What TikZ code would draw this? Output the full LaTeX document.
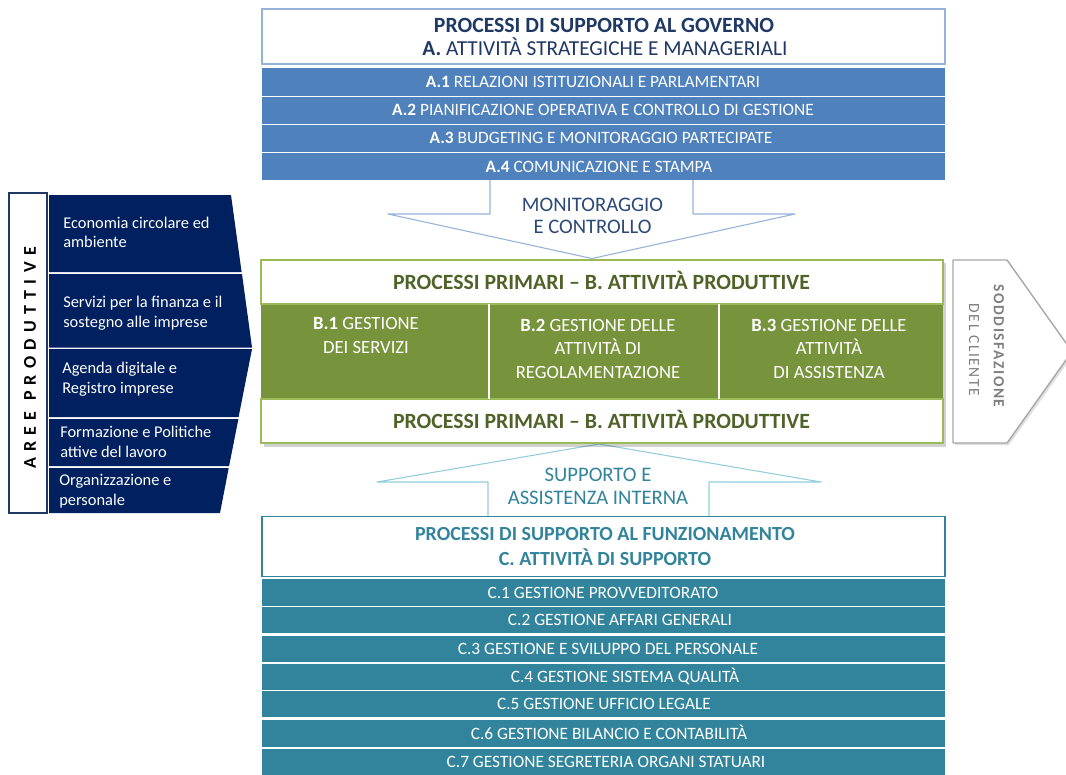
\documentclass[tikz,border=0pt]{standalone}
\usepackage{fontspec}
\setmainfont{Carlito}
\usetikzlibrary{shadows}
\newcommand\pxl{0.75pt}
\definecolor{blueA}{HTML}{4F81BD}
\definecolor{blueL}{HTML}{95B3D7}
\definecolor{blueD}{HTML}{1F3864}
\definecolor{blueT}{HTML}{2B4A78}
\definecolor{greenM}{HTML}{77933C}
\definecolor{greenL}{HTML}{9BBB59}
\definecolor{greenD}{HTML}{4F6228}
\definecolor{tealC}{HTML}{31849B}
\definecolor{tealL}{HTML}{93CDDD}
\definecolor{navy}{HTML}{002060}
\definecolor{navyB}{HTML}{1F3864}
\definecolor{grayA}{HTML}{A6A6A6}
\definecolor{grayT}{HTML}{7F7F7F}
\begin{document}
\begin{tikzpicture}[x=0.75pt,y=-0.75pt,
  bar/.style={inner sep=0pt, outer sep=0pt, minimum width=683*\pxl},
  rowAbox/.style={bar, fill=blueA, minimum height=27*\pxl},
  rowCbox/.style={bar, fill=tealC, minimum height=26*\pxl},
  rowtxt/.style={anchor=base, inner sep=0pt, text=white, font=\fontsize{13}{15}\selectfont},
  titleA/.style={anchor=base, inner sep=0pt, text=blueD, font=\fontsize{16}{18}\selectfont},
  titleB/.style={anchor=base, inner sep=0pt, text=greenD, font=\fontsize{16.3}{19}\selectfont\bfseries},
  titleC/.style={anchor=base, inner sep=0pt, text=tealC, font=\fontsize{15}{18}\selectfont\bfseries},
  btxt/.style={anchor=base, inner sep=0pt, align=center, text=white, font=\fontsize{14}{17.6}\selectfont},
  arrowtxt/.style={anchor=base, inner sep=0pt, align=center, font=\fontsize{15.5}{17}\selectfont},
  areatxt/.style={anchor=base west, inner sep=0pt, align=left, text=white, font=\fontsize{12.3}{14.6}\selectfont},
  chev/.style={fill=navy},
  sidetxt/.style={rotate=-90, inner sep=0pt, text=grayT, font=\fontsize{11.6}{14}\selectfont\addfontfeature{LetterSpace=10}}
]
\clip (0,0) rectangle (1066,774);
\fill[white] (0,0) rectangle (1066,774);

% ---------- block arrows ----------
\draw[blueL, fill=white, line width=0.8pt, line join=round]
  (490,180) -- (490,214) -- (388,214) -- (592,258.5) -- (795,214) -- (693,214) -- (693,180);
\node[arrowtxt, text=blueT] (mon) at (592.5,233.7) {MONITORAGGIO\\E CONTROLLO};

\draw[tealL, fill=white, line width=0.8pt, line join=round]
  (488,517) -- (488,482) -- (377,482) -- (599,444) -- (821,482) -- (709,482) -- (709,517);
\node[arrowtxt, text=tealC] (sup) at (598,504.5) {SUPPORTO E\\ASSISTENZA INTERNA};

% ---------- A block ----------
\node[bar, draw=blueL, fill=white, line width=0.9pt, minimum height=55*\pxl] (boxA) at (603.5,36.5) {};
\node[titleA, font=\fontsize{16.3}{18}\selectfont\bfseries] (tA1) at (604,32.7) {PROCESSI DI SUPPORTO AL GOVERNO};
\node[titleA] (tA2) at (605,55.7) {\textbf{A.} ATTIVITÀ STRATEGICHE E MANAGERIALI};

\node[rowAbox] (a1) at (603.5,82) {};
\node[rowAbox] (a2) at (603.5,110) {};
\node[rowAbox] (a3) at (603.5,138) {};
\node[rowAbox] (a4) at (603.5,166.5) {};
\node[rowtxt] (a1t) at (593,87.6) {\textbf{A.1} RELAZIONI ISTITUZIONALI E PARLAMENTARI};
\node[rowtxt] (a2t) at (603,115.6) {\textbf{A.2} PIANIFICAZIONE OPERATIVA E CONTROLLO DI GESTIONE};
\node[rowtxt] (a3t) at (601,143.6) {\textbf{A.3} BUDGETING E MONITORAGGIO PARTECIPATE};
\node[rowtxt] (a4t) at (599,172.1) {\textbf{A.4} COMUNICAZIONE E STAMPA};

% ---------- B block ----------
\fill[black, opacity=0.18] (264,263) rectangle (946,446.5);
\node[bar, minimum width=682*\pxl, minimum height=95*\pxl, fill=greenM] (bmid) at (602,351.5) {};
\node[bar, minimum width=682*\pxl, minimum height=44*\pxl, fill=white, draw=greenL, line width=1.2pt] (btop) at (602,282) {};
\node[bar, minimum width=682*\pxl, minimum height=44*\pxl, fill=white, draw=greenL, line width=1.2pt] (bbot) at (602,421) {};
\draw[white, line width=1.2pt] (bmid.north west) ++(228,0) coordinate (d1) -- (d1 |- bmid.south);
\draw[white, line width=1.2pt] (bmid.north west) ++(458,0) coordinate (d2) -- (d2 |- bmid.south);
\node[titleB] (bt1) at (601.5,289.9) {PROCESSI PRIMARI – B. ATTIVITÀ PRODUTTIVE};
\node[titleB] (bt2) at (601.5,428.9) {PROCESSI PRIMARI – B. ATTIVITÀ PRODUTTIVE};
\node[btxt] (b1) at (366,353) {\textbf{B.1} GESTIONE\\DEI SERVIZI};
\node[btxt] (b2) at (598,378) {\textbf{B.2} GESTIONE DELLE\\ATTIVITÀ DI\\REGOLAMENTAZIONE};
\node[btxt] (b3) at (829,378) {\textbf{B.3} GESTIONE DELLE\\ATTIVITÀ\\DI ASSISTENZA};

% ---------- customer satisfaction arrow ----------
\draw[grayA, fill=white, line width=1pt, line join=round,
      drop shadow={opacity=0.25, shadow xshift=1.5pt, shadow yshift=-1.5pt}]
  (953,260) -- (1007,260) -- (1072,351.5) -- (1007,443) -- (953,443) -- cycle;
\node[sidetxt, font=\fontsize{11.6}{14}\selectfont\bfseries\addfontfeature{LetterSpace=10}] (s1) at (999,346) {SODDISFAZIONE};
\node[sidetxt] (s2) at (974,350) {DEL CLIENTE};

% ---------- C block ----------
\node[bar, draw=tealC, fill=white, line width=0.8pt, minimum height=60*\pxl] (boxC) at (603.5,546.5) {};
\node[titleC] (tC1) at (605,540.4) {PROCESSI DI SUPPORTO AL FUNZIONAMENTO};
\node[titleC] (tC2) at (605,565.4) {C. ATTIVITÀ DI SUPPORTO};

\node[rowCbox, minimum height=27*\pxl] (c1) at (603.5,592.5) {};
\node[rowCbox] (c2) at (603.5,620) {};
\node[rowCbox] (c3) at (603.5,649) {};
\node[rowCbox] (c4) at (603.5,677) {};
\node[rowCbox] (c5) at (603.5,704) {};
\node[rowCbox, minimum height=27*\pxl] (c6) at (603.5,733.5) {};
\node[rowCbox] (c7) at (603.5,762) {};
\node[rowtxt] (c1t) at (603,598.6) {C.1 GESTIONE PROVVEDITORATO};
\node[rowtxt] (c2t) at (620,625.6) {C.2 GESTIONE AFFARI GENERALI};
\node[rowtxt] (c3t) at (608,654.6) {C.3 GESTIONE E SVILUPPO DEL PERSONALE};
\node[rowtxt] (c4t) at (625,682.6) {C.4 GESTIONE SISTEMA QUALITÀ};
\node[rowtxt] (c5t) at (604,709.6) {C.5 GESTIONE UFFICIO LEGALE};
\node[rowtxt] (c6t) at (609,739.1) {C.6 GESTIONE BILANCIO E CONTABILITÀ};
\node[rowtxt] (c7t) at (606,767.6) {C.7 GESTIONE SEGRETERIA ORGANI STATUARI};

% ---------- left panel ----------
\node[draw=navyB, fill=white, line width=1pt, inner sep=0pt, minimum width=38*\pxl, minimum height=320*\pxl] (aree) at (28,353) {};
\node[rotate=90, inner sep=0pt, text=black, font=\fontsize{13.5}{16}\selectfont\bfseries\addfontfeature{LetterSpace=35}] (areet) at (30,358) {AREE PRODUTTIVE};

\fill[chev] (49,195) -- (231,195) -- (241.6,272) -- (49,272) -- cycle;
\fill[chev] (49,274) -- (242,274) -- (252,347.5) -- (49,347.5) -- cycle;
\fill[chev] (49,349) -- (252,349) -- (238.6,417) -- (49,417) -- cycle;
\fill[chev] (49,419) -- (238.4,419) -- (229.1,466) -- (49,466) -- cycle;
\fill[chev] (49,468) -- (228.7,468) -- (220,513) -- (49,513) -- cycle;
\node[areatxt] (p1) at (63,247.5) {Economia circolare ed\\ambiente};
\node[areatxt] (p2) at (63,327) {Servizi per la finanza e il\\sostegno alle imprese};
\node[areatxt] (p3) at (62,393) {Agenda digitale e\\Registro imprese};
\node[areatxt] (p4) at (60,457) {Formazione e Politiche\\attive del lavoro};
\node[areatxt] (p5) at (59,505) {Organizzazione e\\personale};
\end{tikzpicture}
\end{document}
